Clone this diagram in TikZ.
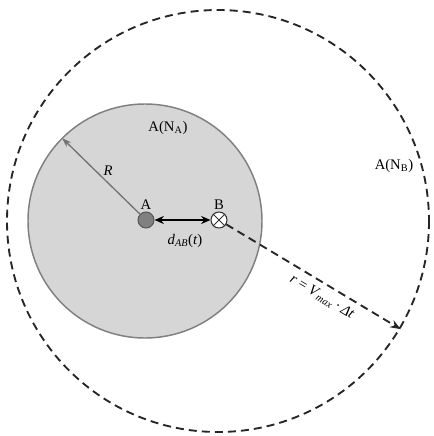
\documentclass[tikz,border=0pt]{standalone}
\usepackage{fontspec}
\setmainfont{Liberation Serif}
\usetikzlibrary{arrows.meta,calc}
\begin{document}
\begin{tikzpicture}[x=0.75pt,y=-0.75pt,
  lbl/.style={font=\fontsize{11}{13}\selectfont, inner sep=0pt},
  fillcirc/.style={fill=black!16, draw=black!50, line width=1.1pt},
  bigdash/.style={draw=black!85, line width=1.4pt, dash pattern=on 6pt off 3.8pt},
  nodeA/.style={circle, minimum size=12pt, inner sep=0pt, fill=black!50, draw=black!65, line width=0.8pt},
  nodeB/.style={circle, minimum size=12pt, inner sep=0pt, fill=white, draw=black!80, line width=0.8pt}]
\useasboundingbox (0,0) rectangle (434,436);
\coordinate (cA) at (145,221);
\coordinate (cB) at (218,221);
\fill[fillcirc] (cA) circle[radius=117];
\draw[bigdash] (cB) circle[radius=211];
\node[nodeA] (A) at (146,220) {};
\node[nodeB] (B) at (219,220) {};
\draw[black!80, line width=0.7pt] (B.north east) -- (B.south west) (B.north west) -- (B.south east);
\coordinate (Rtip) at ($(cA)+(225:117)$);
\draw[black!55, line width=1pt, -{Stealth[length=7pt,width=5pt]}] (A) -- (Rtip);
\draw[black, line width=0.9pt, {Stealth[length=7pt,width=6pt]}-{Stealth[length=7pt,width=6pt]}] (A) -- (B);
\coordinate (rtip) at ($(B)+(31:212)$);
\draw[bigdash, -{Stealth[length=8pt,width=6pt]}] (B) -- (rtip);
\node[lbl] at (108,171) {\itshape R};
\node[lbl] at (146,205) {A};
\node[lbl] at (219,205) {B};
\node[lbl] at (185,241) {\textit{d}\textsubscript{\textit{AB}}(\textit{t})};
\node[lbl] at (168,128) {A(N\textsubscript{A})};
\node[lbl] at (394,166) {A(N\textsubscript{B})};
\node[lbl, rotate=-31] at (322,297) {\textit{r} = \textit{V}\textsubscript{\textit{max}}\,·\,\textit{Δt}};
\end{tikzpicture}
\end{document}
